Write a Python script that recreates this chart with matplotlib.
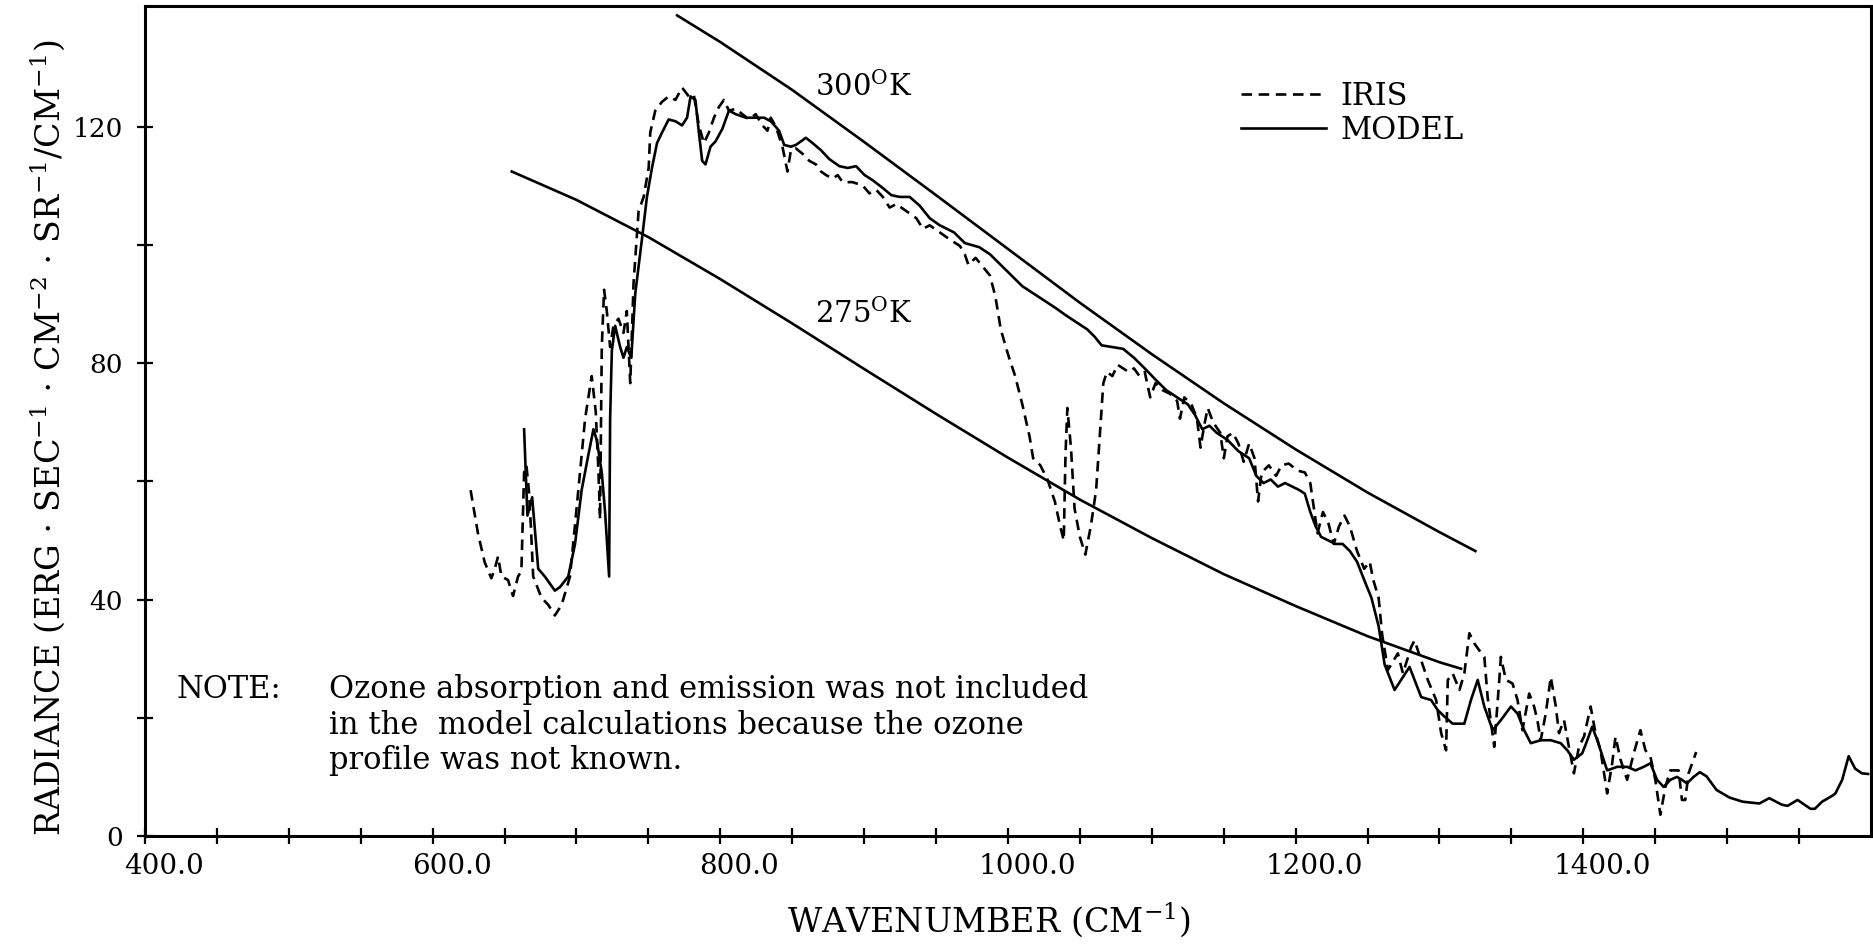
import matplotlib
matplotlib.use("Agg")
import matplotlib.pyplot as plt
from matplotlib.transforms import ScaledTranslation

plt.rcParams['font.family'] = ['DejaVu Serif']
plt.rcParams['mathtext.fontset'] = 'dejavuserif'

# IRIS measured spectrum (dashed)
iris_x = [626.4, 631.5, 636.2, 640.8, 643.1, 645.5, 647.8, 652.4, 655.9, 659.4, 661.7, 663.6, 665.2,
          666.9, 668.3, 669.9, 675.7, 680.4, 685.0, 689.7, 695.5, 701.3, 706.0, 710.6, 713.4, 715.3,
          716.4, 717.6, 719.2, 721.1, 723.4, 725.7, 729.2, 732.7, 735.0, 737.4, 739.7, 743.2, 746.7,
          750.2, 751.3, 754.8, 759.5, 764.1, 768.8, 773.4, 778.1, 781.6, 785.1, 788.6, 792.1, 795.6,
          799.0, 802.5, 806.0, 810.7, 815.3, 820.0, 824.6, 829.3, 832.8, 835.1, 838.6, 843.2, 846.7,
          849.1, 852.6, 857.2, 861.9, 866.5, 870.0, 873.5, 878.2, 881.6, 885.1, 892.1, 899.1, 903.7,
          908.4, 913.0, 917.7, 922.4, 929.3, 936.3, 940.9, 945.6, 952.6, 959.6, 966.6, 970.0, 972.5,
          977.5, 982.5, 987.5, 991.3, 995.0, 1000.0, 1005.0, 1010.0, 1015.0, 1017.5, 1022.5, 1027.5,
          1032.6, 1036.3, 1038.8, 1040.0, 1041.3, 1043.8, 1046.3, 1050.0, 1053.8, 1057.6, 1061.3,
          1063.8, 1066.3, 1068.8, 1072.6, 1076.3, 1080.1, 1083.8, 1087.6, 1091.4, 1095.1, 1098.9,
          1102.6, 1107.6, 1112.6, 1117.6, 1119.6, 1122.6, 1127.6, 1131.4, 1133.9, 1136.4, 1138.9,
          1142.6, 1147.6, 1150.1, 1152.6, 1156.4, 1160.2, 1163.9, 1167.7, 1171.4, 1173.9, 1176.4,
          1181.4, 1186.4, 1190.2, 1195.2, 1201.4, 1206.4, 1210.2, 1212.7, 1215.2, 1219.0, 1222.7,
          1226.5, 1230.2, 1234.0, 1237.7, 1242.7, 1247.7, 1251.5, 1254.0, 1257.7, 1260.2, 1264.2,
          1271.1, 1274.6, 1280.4, 1282.7, 1287.3, 1291.9, 1297.7, 1301.2, 1304.6, 1305.8, 1309.2,
          1313.9, 1317.3, 1320.8, 1324.2, 1327.7, 1331.2, 1333.5, 1338.1, 1341.6, 1342.7, 1346.2,
          1350.8, 1354.3, 1357.7, 1362.4, 1365.8, 1368.1, 1370.4, 1373.9, 1377.4, 1380.9, 1383.1,
          1386.6, 1390.0, 1393.5, 1397.0, 1400.5, 1405.1, 1408.5, 1412.0, 1416.6, 1420.1, 1422.4,
          1425.9, 1430.5, 1435.1, 1439.7, 1443.2, 1446.7, 1450.1, 1453.6, 1457.1, 1460.5, 1464.0,
          1466.3, 1468.6, 1470.9, 1473.2, 1478.5]
iris_y = [58.5, 51.2, 46.3, 43.6, 45.1, 47.3, 43.9, 43.3, 40.6, 43.9, 44.8, 61.5, 62.7,
          58.5, 52.4, 43.9, 40.3, 39.1, 37.3, 39.1, 43.9, 58.5, 70.6, 77.8, 71.8, 61.5,
          53.6, 82.7, 92.4, 88.8, 82.7, 86.3, 87.5, 85.1, 88.8, 76.6, 93.6, 105.7, 108.1,
          113.0, 119.0, 122.7, 124.2, 125.1, 124.5, 126.6, 125.1, 125.4, 120.2, 117.2, 119.0, 121.5,
          123.3, 124.5, 122.7, 123.0, 122.1, 121.2, 122.1, 120.2, 119.3, 121.5, 120.0, 116.6, 112.4,
          116.0, 116.3, 115.4, 114.2, 113.6, 112.4, 111.8, 111.2, 111.8, 110.6, 110.6, 110.0, 108.7,
          109.3, 108.1, 106.3, 106.9, 105.7, 104.5, 102.7, 103.3, 102.1, 100.9, 99.8, 98.4, 96.6,
          97.8, 96.3, 94.8, 91.2, 85.7, 81.5, 77.8, 73.0, 67.6, 63.9, 62.7, 60.3,
          56.6, 52.4, 50.0, 64.5, 72.4, 65.7, 55.4, 50.6, 47.6, 52.4, 58.5,
          67.6, 76.6, 78.5, 77.8, 79.7, 79.1, 78.5, 79.1, 77.8, 78.5, 74.2,
          76.6, 75.4, 74.8, 73.6, 70.6, 74.2, 73.0, 70.6, 65.7, 69.4, 72.4,
          70.0, 68.2, 63.9, 67.6, 68.2, 66.4, 63.3, 66.4, 63.9, 56.6, 61.5,
          62.7, 60.9, 62.7, 63.0, 61.8, 61.5, 59.7, 55.4, 51.2, 54.8, 53.0,
          49.4, 52.4, 54.2, 52.4, 48.2, 45.2, 46.4, 43.3, 40.3, 34.0, 28.1,
          30.9, 27.5, 32.0, 33.1, 29.7, 26.4, 23.0, 17.4, 14.5, 26.4, 27.5,
          24.7, 27.5, 34.3, 32.6, 31.4, 30.3, 23.5, 15.1, 26.4, 30.3, 26.4,
          25.8, 23.0, 17.9, 24.1, 21.9, 19.6, 16.2, 20.7, 26.9, 21.9, 17.4,
          19.6, 15.1, 10.6, 15.1, 16.8, 21.9, 17.4, 14.5, 7.2, 12.3, 16.8,
          12.9, 9.5, 14.0, 17.9, 14.5, 13.4, 9.5, 3.6, 8.3, 11.1, 11.1,
          11.1, 6.1, 6.1, 10.6, 14.2]

# model calculation (solid)
model_x = [663.6, 665.9, 669.2, 673.4, 678.0, 681.5, 685.0, 688.5, 694.3, 699.0, 703.6, 708.3, 711.8,
           714.1, 717.6, 719.9, 722.7, 723.4, 724.6, 726.9, 730.4, 732.7, 735.0, 738.1, 740.9, 745.5,
           749.0, 752.5, 756.0, 759.5, 764.1, 768.8, 773.4, 776.9, 779.3, 782.7, 785.1, 787.4, 789.7,
           793.2, 796.7, 801.4, 806.0, 810.7, 817.7, 824.6, 830.4, 835.1, 840.9, 844.4, 849.1, 852.6,
           859.5, 864.2, 870.0, 875.8, 882.8, 888.6, 894.4, 900.3, 906.1, 913.0, 918.9, 924.7, 931.7,
           938.7, 945.6, 952.6, 962.5, 970.0, 980.0, 987.5, 995.0, 1002.5, 1010.0, 1017.5, 1025.0,
           1032.6, 1040.1, 1047.6, 1055.1, 1060.1, 1065.1, 1072.6, 1080.1, 1087.6, 1095.1, 1102.6,
           1110.1, 1117.6, 1125.1, 1130.1, 1135.1, 1140.1, 1145.1, 1152.6, 1160.2, 1167.7, 1172.7,
           1177.7, 1182.7, 1187.7, 1192.7, 1197.7, 1202.7, 1206.4, 1210.2, 1213.9, 1217.7, 1222.7,
           1227.7, 1232.7, 1237.7, 1242.7, 1247.7, 1252.7, 1257.7, 1261.9, 1268.8, 1279.2, 1287.3,
           1294.2, 1298.8, 1303.5, 1309.2, 1317.3, 1321.9, 1326.6, 1331.2, 1337.0, 1342.7, 1349.7,
           1354.3, 1358.9, 1363.5, 1370.4, 1377.4, 1384.3, 1388.9, 1393.5, 1399.3, 1402.8, 1406.2,
           1409.7, 1416.6, 1423.6, 1430.5, 1436.3, 1442.0, 1446.7, 1451.3, 1455.9, 1460.5, 1465.1,
           1468.6, 1472.1, 1476.7, 1481.0, 1485.7, 1492.6, 1501.7, 1510.9, 1522.4, 1529.3, 1538.0,
           1542.0, 1549.0, 1558.0, 1561.0, 1566.0, 1573.0, 1575.3, 1580.0, 1584.5, 1589.0, 1593.7,
           1598.0]
model_y = [68.8, 54.2, 57.3, 45.2, 43.9, 42.7, 41.5, 42.1, 43.9, 49.4, 58.5, 64.5, 68.8,
           67.0, 61.5, 54.8, 43.9, 70.6, 82.1, 86.3, 82.7, 80.9, 82.7, 80.9, 91.8, 100.9,
           108.1, 113.0, 117.2, 119.0, 121.2, 120.9, 120.2, 121.5, 125.1, 124.5, 119.0, 114.2, 113.6,
           116.6, 117.5, 119.6, 122.7, 122.1, 121.5, 121.5, 121.5, 120.9, 119.3, 116.9, 116.6, 116.9,
           118.1, 117.2, 116.0, 114.5, 113.3, 113.0, 113.3, 111.8, 110.9, 109.6, 108.4, 108.1, 108.1,
           106.6, 104.5, 103.3, 102.1, 100.3, 99.6, 98.4, 96.6, 94.8, 93.0, 91.8, 90.6,
           89.4, 88.1, 86.9, 85.7, 84.5, 83.0, 82.7, 82.4, 80.9, 79.1, 77.2,
           75.4, 74.2, 73.0, 71.2, 68.8, 69.4, 68.2, 67.0, 65.1, 63.9, 60.9,
           59.7, 60.3, 59.1, 59.7, 59.1, 58.5, 57.9, 54.8, 52.4, 50.6, 50.0,
           49.4, 49.4, 48.2, 46.4, 43.3, 40.3, 35.5, 29.0, 24.7, 28.6, 23.5,
           23.0, 21.3, 20.2, 19.0, 19.0, 23.0, 26.4, 21.9, 17.9, 19.6, 21.9,
           20.7, 17.9, 15.7, 16.2, 16.2, 15.7, 14.5, 12.9, 14.0, 16.2, 18.5,
           16.2, 11.1, 11.7, 11.7, 11.1, 11.7, 12.3, 9.5, 8.3, 9.5, 10.0,
           9.5, 8.9, 10.0, 10.8, 10.1, 7.8, 6.5, 5.8, 5.5, 6.4, 5.3,
           5.1, 6.1, 4.6, 4.6, 5.8, 6.8, 7.2, 9.5, 13.5, 11.4, 10.6,
           10.5]

# blackbody reference curves
bb300_x = [770, 800, 850, 900, 950, 1000, 1050, 1100, 1150, 1200, 1250, 1300, 1325]
bb300_y = [138.8, 134.3, 126.2, 117.4, 108.4, 99.3, 90.2, 81.5, 73.2, 65.4, 58.1, 51.4, 48.2]
bb275_x = [655, 700, 750, 800, 850, 900, 950, 1000, 1050, 1100, 1150, 1200, 1250, 1300, 1315]
bb275_y = [112.4, 107.6, 101.3, 94.2, 86.7, 79.0, 71.4, 64.0, 56.9, 50.4, 44.3, 38.9, 33.8, 29.4, 28.3]

xtick_vals = [400, 600, 800, 1000, 1200, 1400]
xtick_labels = ['400.0', '600.0', '800.0', '1000.0', '1200.0', '1400.0']
ytick_vals = [0, 40, 80, 120]
ytick_labels = ['0', '40', '80', '120']

note_lines = ["Ozone absorption and emission was not included",
              "in the  model calculations because the ozone",
              "profile was not known."]

fig = plt.figure(figsize=(18.73, 9.47), dpi=100)
ax = fig.add_axes([0.0774, 0.1172, 0.9215, 0.8765])

lw = 1.9
ax.plot(iris_x, iris_y, color='black', lw=lw, dashes=(4, 2.5), label='IRIS')
ax.plot(model_x, model_y, color='black', lw=lw, label='MODEL')
ax.plot(bb300_x, bb300_y, color='black', lw=lw)
ax.plot(bb275_x, bb275_y, color='black', lw=lw)

ax.set_xlim(400, 1600)
ax.set_ylim(0, 140.4)

ax.set_xticks(xtick_vals)
ax.set_xticklabels(xtick_labels, fontsize=20)
ax.set_xticks(range(450, 1600, 50), minor=True)
ax.set_yticks(ytick_vals)
ax.set_yticklabels(ytick_labels, fontsize=19)
ax.set_yticks(range(20, 140, 40), minor=True)
ax.tick_params(which='both', direction='inout', length=12, width=1.6, color='black')
ax.tick_params(axis='x', pad=6)
ax.tick_params(axis='y', pad=10)
for lab in ax.get_xticklabels():
    lab.set_transform(lab.get_transform() + ScaledTranslation(0.19, 0, fig.dpi_scale_trans))

for sp in ax.spines.values():
    sp.set_linewidth(2.2)

ax.set_xlabel(r'WAVENUMBER (CM$^{-1}$)', fontsize=24)
ax.xaxis.set_label_coords(0.489, -0.078)
ax.set_ylabel(r'RADIANCE (ERG $\cdot$ SEC$^{-1}$ $\cdot$ CM$^{-2}$ $\cdot$ SR$^{-1}$/CM$^{-1}$)',
              fontsize=24)
ax.yaxis.set_label_coords(-0.045, 0.48)

ax.text(900, 126.8, r'300$^{\mathrm{O}}$K', fontsize=21, ha='center', va='center')
ax.text(900, 88.4, r'275$^{\mathrm{O}}$K', fontsize=21, ha='center', va='center')

ax.text(422, 24.8, 'NOTE:', fontsize=22, ha='left', va='center')
for i, line in enumerate(note_lines):
    ax.text(528, 24.8 - 6.05 * i, line, fontsize=22, ha='left', va='center')

ax.legend(loc='upper left', bbox_to_anchor=(0.626, 0.928), frameon=False, fontsize=22,
          handlelength=2.8, handletextpad=0.45, borderpad=0, labelspacing=0.1)

fig.savefig('out.png', dpi=100)
